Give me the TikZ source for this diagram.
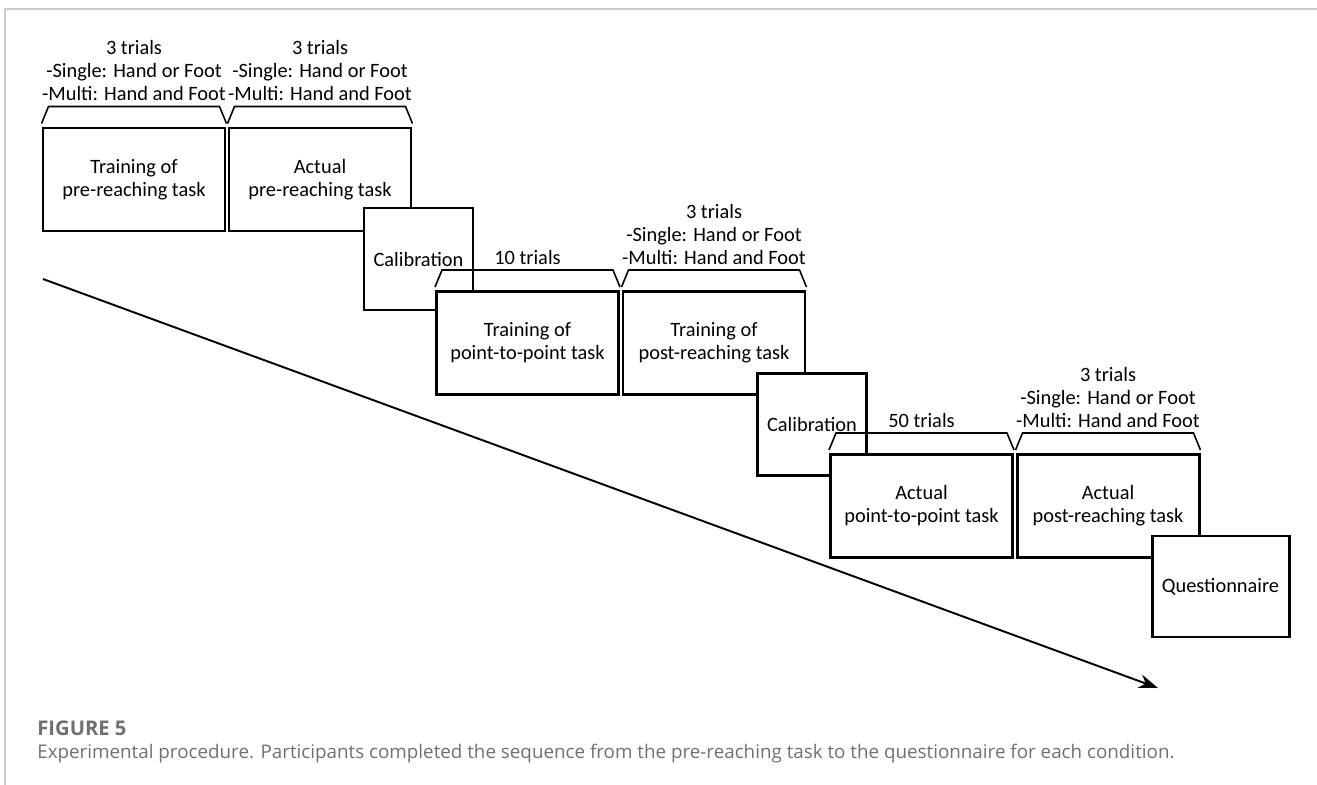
\documentclass[tikz,border=0pt]{standalone}
\usepackage{fontspec}
\setmainfont{Carlito}
\newfontfamily\capfont{Open Sans}
\usepackage{xcolor}
\usepackage{tikz}
\usetikzlibrary{arrows.meta, positioning, calc}

\definecolor{capgray}{HTML}{707070}
\definecolor{framegray}{HTML}{CCCCCC}

\begin{document}
\begin{tikzpicture}[
    font=\fontsize{11.6}{13.1}\selectfont,
    >=Stealth,
    box/.style={draw, fill=white, line width=1.7pt, align=center, inner sep=2pt, minimum width=3.64cm, minimum height=2.06cm},
    calib/.style={box, minimum width=2.18cm, minimum height=2.04cm},
    bracket/.style={line width=0.9pt},
    trials/.style={align=center, inner sep=1pt},
    arrow/.style={-{Stealth[length=11pt, width=8pt]}, line width=1.1pt},
    caption/.style={font=\capfont\fontsize{10.7}{12}\selectfont, text=capgray, anchor=west, inner sep=0pt}
]
\useasboundingbox (0,0) rectangle (26.34,-15.70);

% === FRAME ===
\draw[framegray, line width=0.6pt] (0.10,-15.70) -- (0.10,-0.18) -- (26.34,-0.18);

% === ROW 1: pre-reaching ===
\node[box] (trainpre) at (2.68, -3.59) {Training of\\pre-reaching task};
\node[box] (actpre) at (6.40, -3.59) {Actual\\pre-reaching task};
\node[calib] (calibA) at (8.37, -5.18) {Calibration};

% === ROW 2: training ===
\node[box] (trainptp) at (10.55, -6.86) {Training of\\point-to-point task};
\node[box] (trainpost) at (14.28, -6.86) {Training of\\post-reaching task};
\node[calib] (calibB) at (16.24, -8.49) {Calibration};

% === ROW 3: actual ===
\node[box] (actptp) at (18.43, -10.12) {Actual\\point-to-point task};
\node[box] (actpost) at (22.16, -10.12) {Actual\\post-reaching task};
\node[box, minimum width=2.74cm, minimum height=2.02cm] (quest) at (24.41, -11.73) {Questionnaire};

% === BRACKETS ===
\foreach \b in {trainpre, actpre, trainptp, trainpost, actptp, actpost}
    \draw[bracket] ([yshift=0.06cm]\b.north west) -- ([xshift=0.14cm, yshift=0.40cm]\b.north west)
        -- ([xshift=-0.14cm, yshift=0.40cm]\b.north east) -- ([yshift=0.06cm]\b.north east);

% === TRIAL LABELS ===
\node[trials, above=0.47cm of trainpre] (lbltrainpre) {3 trials\\-Single: Hand or Foot\\-Multi: Hand and Foot};
\node[trials, above=0.47cm of actpre] (lblactpre) {3 trials\\-Single: Hand or Foot\\-Multi: Hand and Foot};
\node[trials, above=0.47cm of trainptp] (lbltrainptp) {10 trials};
\node[trials, above=0.47cm of trainpost] (lbltrainpost) {3 trials\\-Single: Hand or Foot\\-Multi: Hand and Foot};
\node[trials, above=0.47cm of actptp] (lblactptp) {50 trials};
\node[trials, above=0.47cm of actpost] (lblactpost) {3 trials\\-Single: Hand or Foot\\-Multi: Hand and Foot};

% === TIME ARROW ===
\coordinate (tstart) at (0.86, -5.58);
\coordinate (tend) at (23.16, -13.76);
\draw[arrow] (tstart) -- (tend);

% === CAPTION ===
\node[caption, font=\capfont\bfseries\fontsize{11.5}{12}\selectfont] (figno) at (0.74, -14.56) {FIGURE 5};
\node[caption] (figtext) at (0.74, -15.08) {Experimental procedure. Participants completed the sequence from the pre-reaching task to the questionnaire for each condition.};

\end{tikzpicture}
\end{document}
